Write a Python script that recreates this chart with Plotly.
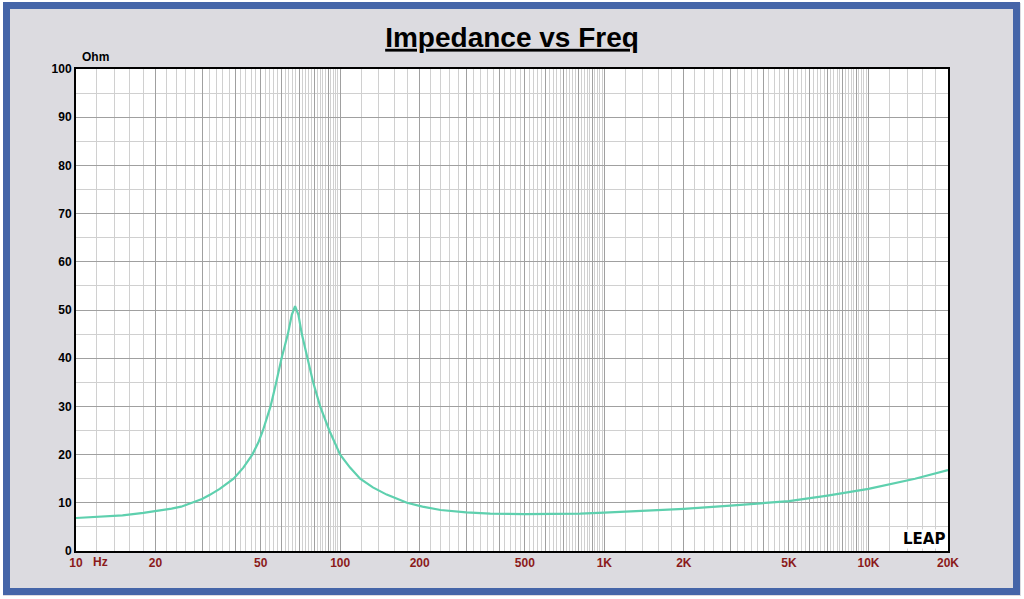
import numpy as np
import plotly.graph_objects as go

# impedance curve (Hz, Ohm)
freq = [10, 12, 15, 18, 20, 23, 25, 28, 30, 32, 35, 39.5, 43, 46.5, 49, 51,
        54.5, 57, 60, 63.4, 65.6, 67.5, 69.5, 71.6, 75, 79, 84, 91, 100, 109,
        119, 133, 150, 165, 179, 205, 240, 300, 370, 500, 650, 811, 1000, 1500,
        2000, 3000, 4000, 5000, 7000, 10000, 15000, 20000]
ohm = [6.85, 7.05, 7.4, 7.9, 8.25, 8.8, 9.2, 10.1, 10.8, 11.6, 12.9, 15, 17.3, 20, 22.5, 25,
       30, 34.5, 40, 45, 49, 50.8, 49, 45, 40, 35, 30, 25, 20, 17.3,
       15, 13.2, 11.7, 10.7, 10, 9.2, 8.5, 8.0, 7.75, 7.65, 7.65, 7.75, 7.95, 8.35,
       8.75, 9.4, 9.85, 10.35, 11.5, 12.9, 15, 16.8]

x_labels = {10: "10", 20: "20", 50: "50", 100: "100", 200: "200", 500: "500",
            1000: "1K", 2000: "2K", 5000: "5K", 10000: "10K", 20000: "20K"}

W, H = 1024, 599
L, R, T, B = 76, 76, 69, 48
pw, ph = W - L - R, H - T - B

# dark grid at every integer multiple, light grid in 0.2 steps between
major = []
minor = []
for dec in [10, 100, 1000, 10000]:
    for k in range(1, 10):
        v = k * dec
        if v <= 20000:
            major.append(v)
    for m in np.arange(1.2, 10.0, 0.2):
        if abs(m - round(m)) > 1e-6:
            v = m * dec
            if v < 20000:
                minor.append(float(v))
major.append(20000)
ticktext = ["<b>" + x_labels[v] + "</b>" if v in x_labels else "" for v in major]


def px(x):
    return (x - L) / pw


def py(y):
    return (H - B - y) / ph


fig = go.Figure()
fig.add_trace(go.Scatter(x=freq, y=ohm, mode="lines",
                         line=dict(color="#5ED0AE", width=2.2), hoverinfo="x+y"))

fig.update_layout(
    width=W, height=H,
    margin=dict(l=L, r=R, t=T, b=B),
    paper_bgcolor="#DCDBE0",
    plot_bgcolor="white",
    showlegend=False,
    font=dict(family="Liberation Sans, Arial", color="black"),
    title=dict(text="<b><u>Impedance vs Freq</u></b>", x=0.5, xanchor="center",
               y=1 - 37 / H, yanchor="middle", font=dict(size=28, color="black")),
    xaxis=dict(type="log", range=[1, np.log10(20000)],
               tickmode="array", tickvals=major, ticktext=ticktext,
               showgrid=True, gridcolor="#A0A0A0", gridwidth=1,
               showline=True, linecolor="black", linewidth=2, mirror=True,
               ticks="", zeroline=False,
               tickfont=dict(size=12, color="#8B1A1A", family="Liberation Sans, Arial"),
               minor=dict(tickmode="array", tickvals=minor, showgrid=True,
                          gridcolor="#D0D0D0", gridwidth=1, ticks="")),
    yaxis=dict(range=[0, 100], tickmode="linear", tick0=0, dtick=10,
               showgrid=True, gridcolor="#A0A0A0", gridwidth=1,
               showline=True, linecolor="black", linewidth=2, mirror=True,
               ticks="", zeroline=False,
               tickfont=dict(size=12, color="black"),
               tickprefix="<b>", ticksuffix="</b>",
               minor=dict(dtick=5, showgrid=True, gridcolor="#D0D0D0",
                          gridwidth=1, ticks="")),
)

fig.add_annotation(text="<b>Ohm</b>", xref="paper", yref="paper",
                   x=px(80), y=py(57), xanchor="left", yanchor="middle",
                   showarrow=False, font=dict(size=12, color="black"))
fig.add_annotation(text="<b>Hz</b>", xref="paper", yref="paper",
                   x=px(91), y=py(562), xanchor="left", yanchor="middle",
                   showarrow=False, font=dict(size=12, color="#8B1A1A"))
fig.add_annotation(text="<b>LEAP</b>", xref="paper", yref="paper",
                   x=px(946), y=py(549), xanchor="right", yanchor="bottom",
                   showarrow=False, bgcolor="white", borderpad=0,
                   font=dict(size=15, color="black", family="DejaVu Sans"))

# outer frame
fig.add_shape(type="rect", xref="paper", yref="paper", layer="above",
              x0=px(1), x1=px(1023), y0=py(598), y1=py(1),
              line=dict(color="white", width=4))
fig.add_shape(type="rect", xref="paper", yref="paper", layer="above",
              x0=px(6.5), x1=px(1016.5), y0=py(591.5), y1=py(5.5),
              line=dict(color="#4565A8", width=7))

fig.write_html("out.html", config={"displayModeBar": False},
               post_script="document.body.style.margin='0';")
